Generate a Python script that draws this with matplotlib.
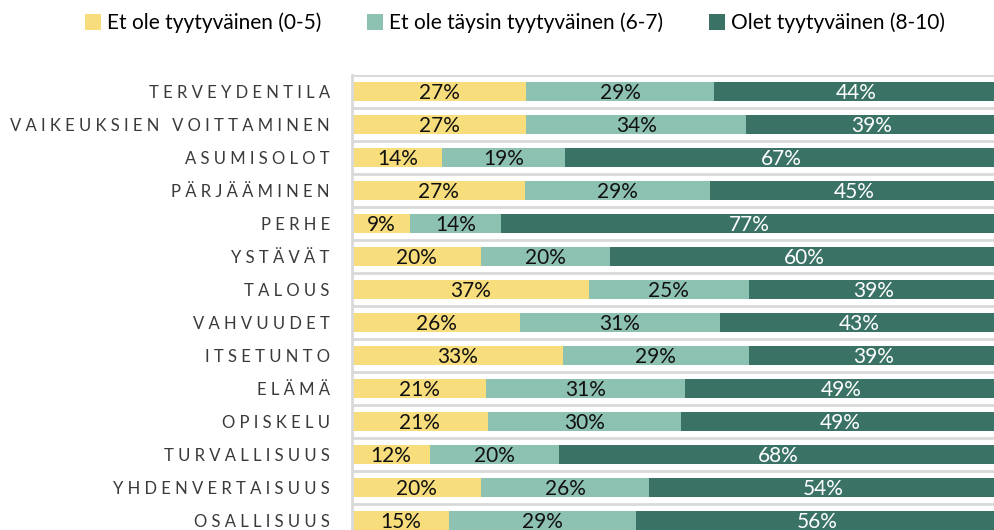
import matplotlib
matplotlib.use("Agg")
import matplotlib.pyplot as plt
import numpy as np
from matplotlib.patches import Patch

plt.rcParams['font.family'] = ['Lato', 'DejaVu Sans']

# Aihealueet ylhäältä alas
categories = ["TERVEYDENTILA", "VAIKEUKSIEN VOITTAMINEN", "ASUMISOLOT", "PÄRJÄÄMINEN",
              "PERHE", "YSTÄVÄT", "TALOUS", "VAHVUUDET", "ITSETUNTO", "ELÄMÄ",
              "OPISKELU", "TURVALLISUUS", "YHDENVERTAISUUS", "OSALLISUUS"]
low = [27, 27, 14, 27, 9, 20, 37, 26, 33, 21, 21, 12, 20, 15]
mid = [29, 34, 19, 29, 14, 20, 25, 31, 29, 31, 30, 20, 26, 29]
high = [44, 39, 67, 45, 77, 60, 39, 43, 39, 49, 49, 68, 54, 56]
series_names = ["Et ole tyytyväinen (0-5)", "Et ole täysin tyytyväinen (6-7)", "Olet tyytyväinen (8-10)"]

colors = ["#F7DD7C", "#8DC1B2", "#3A7366"]
text_colors = ["#111111", "#111111", "#FFFFFF"]


def spaced(s):
    # kirjainväli kuten alkuperäisessä
    return "   ".join(" ".join(w) for w in s.split(" "))


fig = plt.figure(figsize=(9.94, 5.30), dpi=100)
ax = fig.add_axes([352 / 994, -7 / 530, 646 / 994, 462 / 530])

data = np.array([low, mid, high], dtype=float)
totals = data.sum(axis=0)
shares = data / totals * 100
y = np.arange(len(categories))

left = np.zeros(len(categories))
for i in range(3):
    ax.barh(y, shares[i], left=left, height=0.55, color=colors[i], zorder=2)
    for j in range(len(categories)):
        ax.text(left[j] + shares[i][j] / 2, y[j] + 0.04, f"{int(data[i][j])}%",
                ha="center", va="center", fontsize=15, color=text_colors[i], zorder=3)
    left += shares[i]

for b in np.arange(-0.5, len(categories), 1.0):
    ax.axhline(b, color="#D9D9D9", lw=2, zorder=1)

ax.set_xlim(0, 100)
ax.set_ylim(len(categories) - 0.5, -0.5)
ax.set_xticks([])
ax.set_yticks(y)
ax.set_yticklabels([spaced(c) for c in categories], fontsize=12, color="#3A3A3A")
ax.tick_params(axis="y", length=0, pad=16)
for s in ["top", "right", "bottom"]:
    ax.spines[s].set_visible(False)
ax.spines["left"].set_color("#D9D9D9")
ax.spines["left"].set_linewidth(2)

handles = [Patch(facecolor=c, edgecolor="none") for c in colors]
fig.legend(handles, series_names, loc="center", bbox_to_anchor=(515 / 994, 1 - 23 / 530),
           ncol=3, frameon=False, fontsize=15, handlelength=0.75, handleheight=0.75,
           handletextpad=0.3, columnspacing=2.2)

fig.savefig("out.png", dpi=100)
